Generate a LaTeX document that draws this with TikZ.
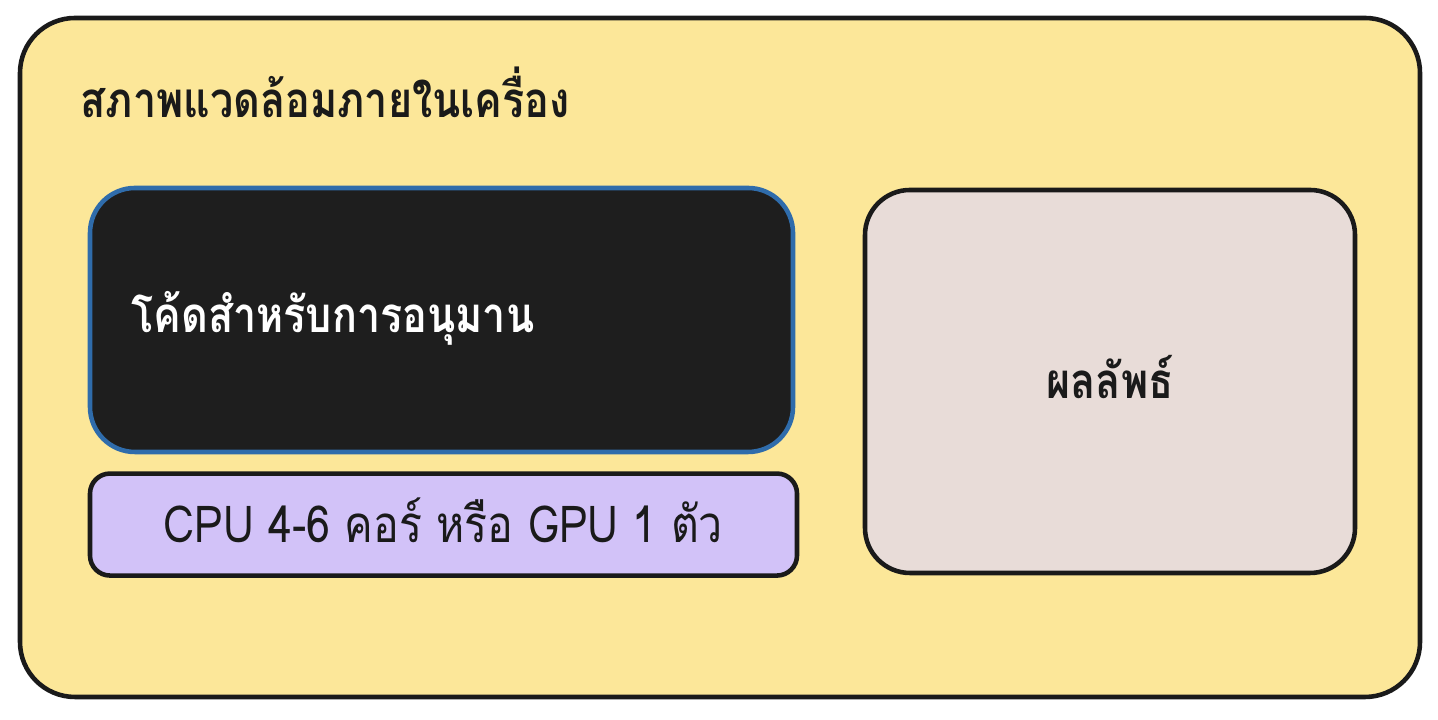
\documentclass[tikz,border=0pt]{standalone}
\usepackage{fontspec}
\newfontfamily\thaifont[Script=Thai, FakeStretch=0.84]{Loma}
\usepackage{xcolor}
\usetikzlibrary{positioning}
\definecolor{envyellow}{HTML}{FCE799}
\definecolor{codeblack}{HTML}{1E1E1E}
\definecolor{codeblue}{HTML}{2F6CAB}
\definecolor{gpupurple}{HTML}{D2C2F8}
\definecolor{resultgray}{HTML}{E8DCD8}
\definecolor{inkdark}{HTML}{1A1A1A}

\begin{document}
\begin{tikzpicture}[
      node distance=0.17cm,
      box/.style={draw=inkdark, line width=1.3pt, rounded corners=0.45cm, inner sep=0pt},
      label/.style={font=\thaifont\bfseries\fontsize{14}{17}\selectfont, inner sep=0pt}
    ]
        \useasboundingbox (0,0) rectangle (14.38,7.20);
        \draw[box, fill=envyellow, rounded corners=0.55cm] (0.20,0.23) rectangle (14.20,7.02);
        \node[label, anchor=west, text=inkdark] (title) at (0.80,6.28) {สภาพแวดล้อมภายในเครื่อง};

        \node[box, draw=codeblue, fill=codeblack, minimum width=7.03cm, minimum height=2.64cm] (code) at (4.415,4.00) {};
        \node[label, anchor=west, text=white] (codetext) at ([xshift=0.43cm,yshift=0.02cm]code.west) {โค้ดสำหรับการอนุมาน};
        \node[box, fill=gpupurple, rounded corners=0.2cm, minimum width=7.07cm, minimum height=1.02cm, below=of code.south, anchor=north, xshift=0.02cm] (gpu) {};
        \node[label, text=inkdark, font=\thaifont\fontsize{14.5}{17}\selectfont] (gputext) at ([yshift=0.04cm]gpu.center) {CPU 4-6 คอร์ หรือ GPU 1 ตัว};
        \node[box, fill=resultgray, minimum width=4.90cm, minimum height=3.83cm] (result) at (11.10,3.385) {};
        \node[label, text=inkdark] (resulttext) at ([yshift=0.04cm]result.center) {ผลลัพธ์};
    \end{tikzpicture}
\end{document}
